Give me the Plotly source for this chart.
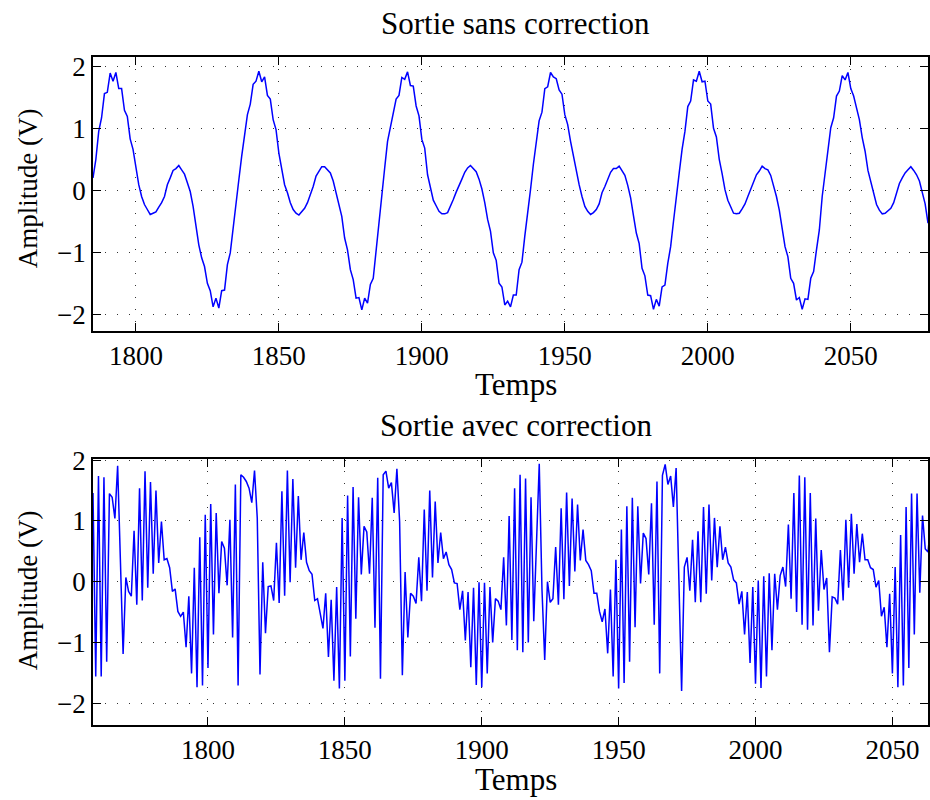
import plotly.graph_objects as go
from plotly.subplots import make_subplots

# ---- data: top panel (Sortie sans correction) ----
t_top_start = 1785
y_top = [
    0.20, 0.50, 0.95, 1.17, 1.56, 1.58, 1.89, 1.76, 1.90, 1.64,
    1.64, 1.29, 1.19, 0.83, 0.66, 0.36, 0.09, -0.10, -0.23, -0.31,
    -0.39, -0.37, -0.35, -0.27, -0.20, -0.10, 0.09, 0.20, 0.32, 0.35,
    0.40, 0.33, 0.26, 0.12, -0.02, -0.26, -0.56, -0.88, -1.09, -1.23,
    -1.50, -1.62, -1.88, -1.74, -1.90, -1.62, -1.61, -1.20, -1.01, -0.58,
    -0.15, 0.17, 0.55, 0.85, 1.22, 1.39, 1.71, 1.76, 1.92, 1.75,
    1.83, 1.53, 1.47, 1.14, 0.98, 0.60, 0.33, 0.09, -0.04, -0.20,
    -0.31, -0.37, -0.40, -0.34, -0.29, -0.20, -0.07, 0.06, 0.23, 0.31,
    0.38, 0.38, 0.33, 0.28, 0.15, -0.04, -0.23, -0.42, -0.77, -0.96,
    -1.28, -1.44, -1.74, -1.73, -1.93, -1.74, -1.82, -1.52, -1.42, -0.95,
    -0.58, -0.04, 0.36, 0.79, 1.01, 1.20, 1.47, 1.53, 1.82, 1.79,
    1.91, 1.69, 1.68, 1.36, 1.20, 0.82, 0.68, 0.25, 0.06, -0.16,
    -0.25, -0.34, -0.38, -0.38, -0.36, -0.26, -0.15, -0.03, 0.09, 0.18,
    0.29, 0.36, 0.40, 0.35, 0.30, 0.18, 0.02, -0.20, -0.47, -0.66,
    -1.01, -1.13, -1.50, -1.56, -1.85, -1.79, -1.88, -1.69, -1.69, -1.28,
    -1.16, -0.74, -0.31, 0.01, 0.42, 0.82, 1.12, 1.26, 1.64, 1.67,
    1.90, 1.83, 1.80, 1.62, 1.55, 1.22, 1.06, 0.79, 0.55, 0.28,
    0.09, -0.10, -0.26, -0.34, -0.39, -0.36, -0.31, -0.22, -0.04, 0.06,
    0.17, 0.29, 0.35, 0.35, 0.39, 0.32, 0.24, 0.08, -0.12, -0.41,
    -0.69, -0.86, -1.26, -1.38, -1.69, -1.70, -1.92, -1.76, -1.87, -1.56,
    -1.53, -1.18, -0.91, -0.50, -0.07, 0.28, 0.66, 0.95, 1.35, 1.44,
    1.78, 1.76, 1.92, 1.75, 1.76, 1.44, 1.39, 1.00, 0.86, 0.50,
    0.27, 0.01, -0.16, -0.27, -0.37, -0.38, -0.37, -0.30, -0.22, -0.10,
    0.02, 0.13, 0.25, 0.31, 0.39, 0.35, 0.33, 0.24, 0.09, -0.10,
    -0.32, -0.61, -0.91, -1.07, -1.42, -1.50, -1.77, -1.73, -1.92, -1.75,
    -1.76, -1.42, -1.31, -0.96, -0.64, -0.10, 0.28, 0.71, 1.01, 1.17,
    1.52, 1.60, 1.85, 1.78, 1.90, 1.64, 1.52, 1.33, 1.14, 0.85,
    0.63, 0.32, 0.13, -0.07, -0.23, -0.32, -0.38, -0.37, -0.33, -0.29,
    -0.20, -0.04, 0.11, 0.20, 0.28, 0.33, 0.38, 0.32, 0.25, 0.15,
    -0.04, -0.22, -0.53,
]
t_top = list(range(t_top_start, t_top_start + len(y_top)))

# ---- data: bottom panel (Sortie avec correction) ----
t_bot_start = 1758
y_bot = [
    1.46, -1.56, 1.74, -1.56, 1.72, -1.32, 1.45, 1.39, 1.04, 1.91,
    0.36, -1.19, 0.07, -0.16, -0.24, 0.84, -0.38, 1.54, -0.31, 1.82,
    -0.10, 1.64, 0.13, 1.50, 0.31, 0.99, 0.36, 0.38, 0.23, -0.16,
    -0.12, -0.49, -0.57, -0.50, -1.08, -0.24, -1.51, 0.23, -1.74, 0.73,
    -1.71, 1.10, -1.42, 1.28, -0.87, 1.13, -0.19, 0.66, 0.55, -0.06,
    1.02, -0.92, 1.60, -1.71, 1.76, 1.72, 1.65, 1.54, 1.30, 1.83,
    1.05, -1.53, 0.32, -0.85, -0.08, -0.07, -0.31, 0.64, -0.35, 1.49,
    -0.23, 1.83, -0.01, 1.69, 0.23, 1.41, 0.36, 0.81, 0.32, 0.18,
    0.12, -0.31, -0.28, -0.53, -0.77, -0.19, -1.24, -0.30, -1.63, -0.09,
    -1.76, 1.05, -1.63, 1.42, -1.23, 1.56, -0.61, 1.39, 0.12, 0.91,
    0.82, 0.13, 1.38, -0.76, 1.71, -1.60, 1.76, 1.82, 1.54, 1.63,
    1.13, 1.86, 0.99, -1.54, 0.16, -0.92, -0.19, -0.24, -0.36, 0.40,
    -0.32, 1.19, -0.15, 1.50, 0.07, 1.32, 0.31, 0.81, 0.38, 0.49,
    0.28, 0.20, -0.02, -0.03, -0.46, -0.15, -0.97, -0.17, -1.41, -0.10,
    -1.70, -0.01, -1.74, -0.02, -1.51, -0.09, -1.00, -0.28, -0.32, -0.46,
    0.40, -0.72, 1.08, -0.96, 1.54, -1.13, 1.76, -1.16, 1.70, -1.00,
    1.39, -0.65, 0.64, 1.94, -0.13, -1.29, 0.00, -0.34, -0.28, 0.57,
    -0.38, 1.21, -0.29, 1.47, -0.07, 1.37, 0.17, 1.27, 0.35, 0.86,
    0.35, 0.28, 0.18, -0.19, -0.19, -0.49, -0.66, -0.45, -1.18, -0.13,
    -1.56, 0.36, -1.76, 0.86, -1.67, 1.24, -1.32, 1.38, -0.75, 1.24,
    -0.03, 0.80, 0.71, 0.12, 1.29, -0.71, 1.65, -1.51, 1.75, 1.93,
    1.60, 1.74, 1.23, 1.87, 0.04, -1.80, 0.24, 0.40, -0.15, 0.69,
    -0.34, 0.83, -0.34, 1.23, -0.20, 1.27, 0.02, 1.05, 0.24, 0.91,
    0.36, 0.57, 0.31, 0.24, 0.03, -0.02, -0.37, -0.16, -0.87, -0.17,
    -1.34, -0.09, -1.68, 0.02, -1.75, 0.09, -1.56, 0.14, -1.13, 0.13,
    -0.46, 0.10, 0.24, -0.08, 0.94, -0.28, 1.46, -0.50, 1.75, -0.71,
    1.72, -0.79, 1.46, -0.72, 1.04, -0.48, 0.52, -0.13, 0.06, -1.16,
    -0.25, -0.27, -0.37, 0.52, -0.31, 1.02, -0.10, 1.12, 0.13, 0.95,
    0.32, 0.79, 0.36, 0.36, 0.23, 0.20, -0.09, 0.02, -0.57, -0.42,
    -1.08, -0.20, -1.51, 0.24, -1.74, 0.77, -1.71, 1.23, -1.42, 1.45,
    -0.87, 1.45, -0.18, 1.09, 0.54, 0.49, 0.95,
]
t_bot = list(range(t_bot_start, t_bot_start + len(y_bot)))

titles = ["Sortie sans correction", "Sortie avec correction"]
x_label = "Temps"
y_label = "Amplitude (V)"
y_ticks = [-2, -1, 0, 1, 2]

FONT = "Liberation Serif, Times New Roman, serif"
FS = 27
FS_TITLE = 31

W, H = 930, 800
ML, MR, MT, MB = 93, 0, 57, 75
PH = H - MT - MB
PW = W - ML - MR


def py(p):
    return (H - MB - p) / PH


def px(p):
    return (p - ML) / PW


fig = make_subplots(rows=2, cols=1)
fig.add_trace(go.Scatter(x=t_top, y=y_top, mode="lines",
                         line=dict(color="#0000ff", width=1.5)), row=1, col=1)
fig.add_trace(go.Scatter(x=t_bot, y=y_bot, mode="lines",
                         line=dict(color="#0000ff", width=1.5)), row=2, col=1)

axis_common = dict(
    showline=True, linecolor="black", linewidth=1.5, mirror="ticks",
    ticks="inside", ticklen=8, tickwidth=1.2, tickcolor="black",
    showgrid=True, gridcolor="#333333", gridwidth=1, griddash="1px,11px",
    zeroline=False,
    tickfont=dict(family=FONT, size=FS, color="black"),
)

fig.update_layout(
    width=W, height=H,
    margin=dict(l=ML, r=MR, t=MT, b=MB),
    paper_bgcolor="white", plot_bgcolor="white",
    showlegend=False,
    font=dict(family=FONT, size=FS, color="black"),
    xaxis=dict(domain=[0, 1], range=[1785, 2077], tick0=1800, dtick=50, **axis_common),
    yaxis=dict(domain=[py(331), 1.0], range=[-2.27, 2.15], tickvals=y_ticks, **axis_common),
    xaxis2=dict(domain=[0, 1], range=[1758, 2063], tick0=1800, dtick=50, **axis_common),
    yaxis2=dict(domain=[0, py(459)], range=[-2.36, 2.02], tickvals=y_ticks, **axis_common),
)

ann = [
    dict(text=titles[0], x=px(517), y=py(23), size=FS_TITLE),
    dict(text=x_label, x=px(517), y=py(384), size=FS_TITLE),
    dict(text=y_label, x=px(28), y=py(188), size=FS, textangle=-90),
    dict(text=titles[1], x=px(517), y=py(425), size=FS_TITLE),
    dict(text=x_label, x=px(517), y=py(779), size=FS_TITLE),
    dict(text=y_label, x=px(28), y=py(590), size=FS, textangle=-90),
]
for a in ann:
    size = a.pop("size")
    fig.add_annotation(xref="paper", yref="paper", showarrow=False,
                       xanchor="center", yanchor="middle",
                       font=dict(family=FONT, size=size, color="black"), **a)

fig.write_html("out.html",
               config={"displayModeBar": False},
               post_script="document.body.style.margin='0';document.body.style.overflow='hidden';")
